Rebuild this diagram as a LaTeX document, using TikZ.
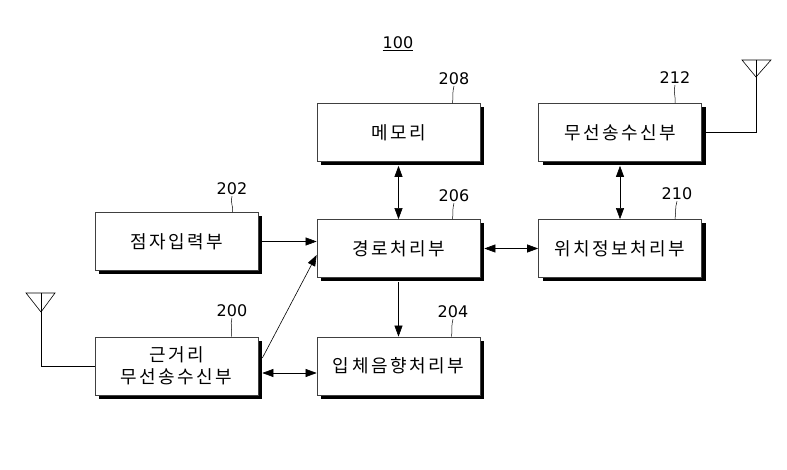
\documentclass[tikz,border=0pt]{standalone}
\usepackage{fontspec}
\setmainfont{Noto Sans CJK KR}[LetterSpace=14]
\newfontfamily\numfont{DejaVu Sans}
\usetikzlibrary{shadows, arrows.meta, positioning}

\begin{document}
\begin{tikzpicture}[x=1pt, y=-1pt,
    block/.style={rectangle, draw=black!75, line width=0.7pt, fill=white, minimum width=163pt, minimum height=58pt, font=\fontsize{18}{22}\selectfont, align=center, drop shadow={shadow xshift=4pt, shadow yshift=-4pt, fill=black, opacity=1}},
    num/.style={font=\numfont\fontsize{16}{18}\selectfont, inner sep=1pt},
    lead/.style={line width=0.5pt},
    arrow/.style={-{Triangle[length=11pt, width=8pt]}, line width=0.6pt},
    darrow/.style={{Triangle[length=11pt, width=8pt]}-{Triangle[length=11pt, width=8pt]}, line width=0.6pt},
    wire/.style={line width=0.6pt}
]
\useasboundingbox (0,0) rectangle (787,470);

% Blocks
\node[block] (mem) at (398.5, 132.5) {메모리};
\node[block] (radio) at (620, 132.5) {무선송수신부};
\node[block] (braille) at (176.5, 241.5) {점자입력부};
\node[block] (route) at (398.5, 248.5) {경로처리부};
\node[block] (pos) at (620, 248.5) {위치정보처리부};
\node[block] (short) at (176.5, 366) {근거리\\무선송수신부};
\node[block] (sound) at (398.5, 366) {입체음향처리부};

% Reference numbers
\node[num] (n100) at (398, 44) {\underline{100}};
\node[num] (n208) at (454, 79) {208};
\node[num] (n212) at (675, 78) {212};
\node[num] (n202) at (232, 189) {202};
\node[num] (n206) at (454, 196) {206};
\node[num] (n210) at (677, 194) {210};
\node[num] (n200) at (232, 311) {200};
\node[num] (n204) at (453, 312) {204};

% Leaders
\draw[lead] (n208.south) .. controls +(-2,6) and +(1,-6) .. ([xshift=54pt]mem.north);
\draw[lead] (n212.south) .. controls +(-2,6) and +(1,-6) .. ([xshift=55pt]radio.north);
\draw[lead] (n202.south) .. controls +(-2,6) and +(1,-6) .. ([xshift=56pt]braille.north);
\draw[lead] (n206.south) .. controls +(-2,6) and +(1,-6) .. ([xshift=54pt]route.north);
\draw[lead] (n210.south) .. controls +(-2,6) and +(1,-6) .. ([xshift=55pt]pos.north);
\draw[lead] (n200.south) .. controls +(-2,6) and +(1,-6) .. ([xshift=55pt]short.north);
\draw[lead] (n204.south) .. controls +(-2,6) and +(1,-6) .. ([xshift=53pt]sound.north);

% Antennas
\coordinate (antL) at (41, 312);
\coordinate (antR) at (756, 77);
\draw[wire] (26,293) -- (55,293) -- (antL) -- cycle;
\draw[wire] (41,293) -- (antL);
\draw[wire] (antL) |- (short.west);
\draw[wire] (742,60) -- (771,60) -- (antR) -- cycle;
\draw[wire] (756,60) -- (antR);
\draw[wire] (antR) |- (radio.east);

% Arrows
\draw[darrow] ([yshift=-4pt]mem.south) -- (route.north);
\draw[darrow] ([yshift=-4pt]radio.south) -- (pos.north);
\draw[arrow] ([xshift=4pt]braille.east) -- (braille.east -| route.west);
\draw[arrow] ([xshift=4pt, yshift=8pt]short.east) -- ([yshift=-6.5pt]route.west);
\draw[darrow] ([xshift=4pt]route.east) -- (pos.west);
\draw[arrow] ([yshift=-4pt]route.south) -- (sound.north);
\draw[darrow] ([xshift=4pt, yshift=-7pt]short.east) -- ([yshift=-7pt]sound.west);

\end{tikzpicture}
\end{document}
